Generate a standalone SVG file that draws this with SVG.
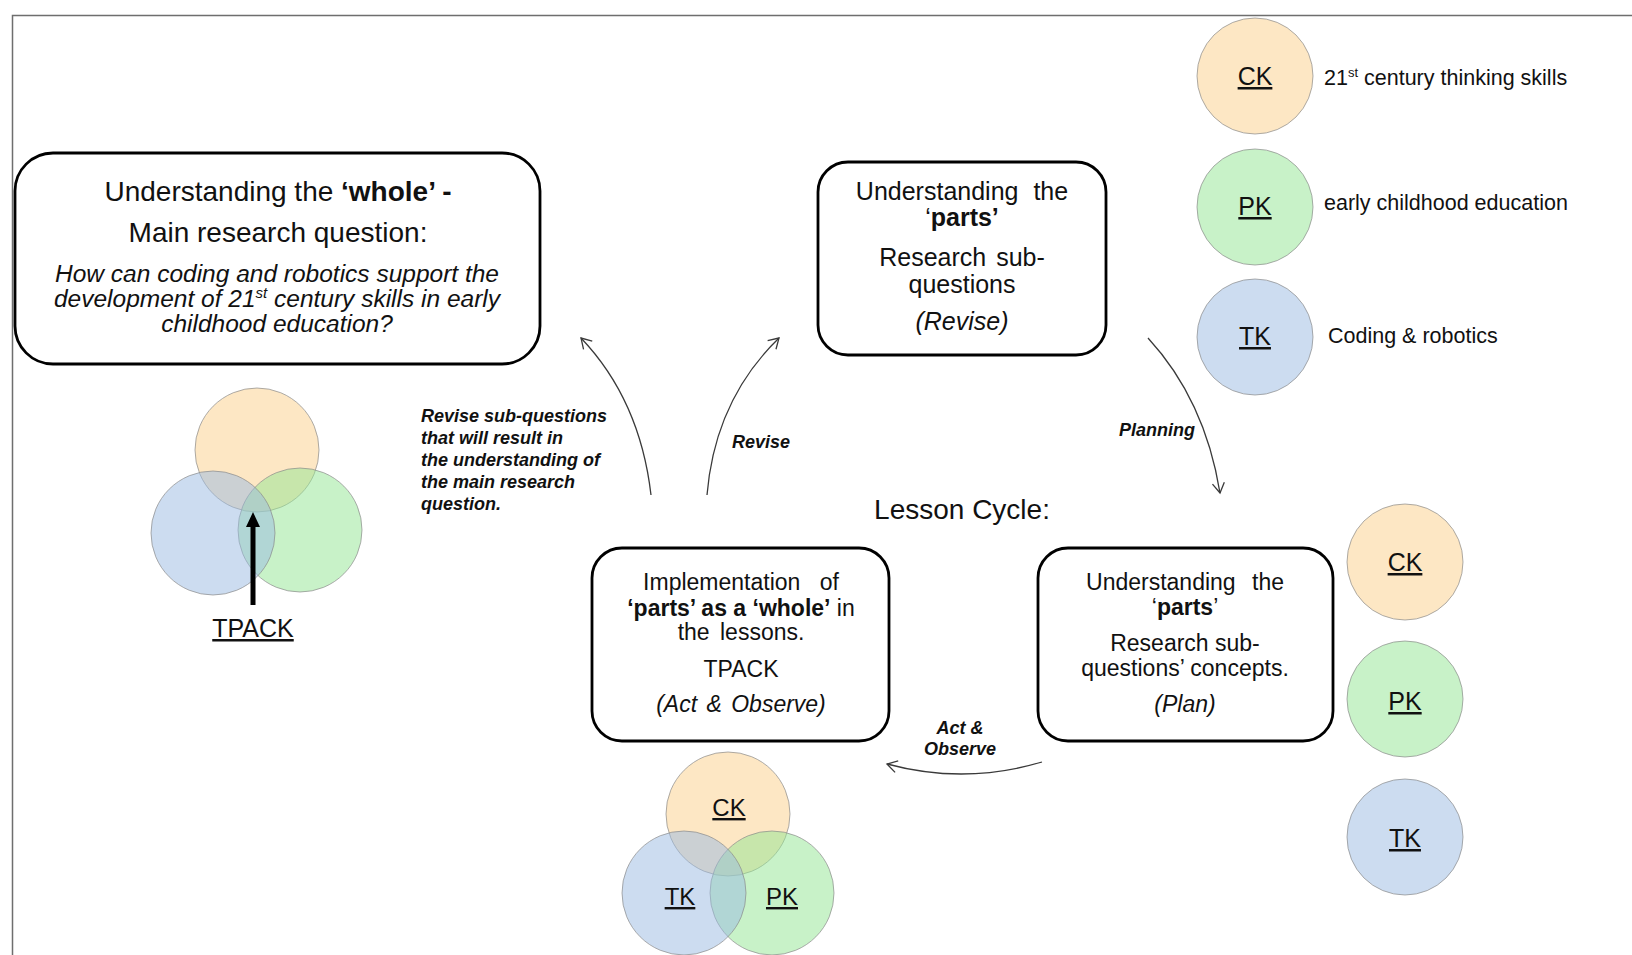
<svg xmlns="http://www.w3.org/2000/svg" width="1632" height="955" viewBox="0 0 1632 955">
  <style>
    text { font-family: "Liberation Sans", Arial, sans-serif; fill: #111; }
    .box { fill: #fff; stroke: #000; stroke-width: 2.8; }
    .frame { stroke: #6e6e6e; stroke-width: 1.5; fill: none; }
    .c { text-anchor: middle; }
    .b { font-weight: bold; }
    .i { font-style: italic; }
    .bi { font-weight: bold; font-style: italic; font-size: 18px; }
    .u { text-decoration: underline; }
    .ck { fill: #fbcf89; fill-opacity: 0.5; stroke: #8a8a8a; stroke-width: 1; stroke-opacity: 0.7; }
    .pk { fill: #91e591; fill-opacity: 0.5; stroke: #8a8a8a; stroke-width: 1; stroke-opacity: 0.7; }
    .tk { fill: #99b9e1; fill-opacity: 0.5; stroke: #8a8a8a; stroke-width: 1; stroke-opacity: 0.7; }
    .conn { fill: none; stroke: #3a3a3a; stroke-width: 1.3; }
  </style>
  <defs>
    <marker id="open" viewBox="-12 -8 14 16" markerWidth="14" markerHeight="16" refX="0" refY="0" orient="auto" markerUnits="userSpaceOnUse">
      <path d="M -10 -6 L 0 0 L -10 6" fill="none" stroke="#3a3a3a" stroke-width="1.3"/>
    </marker>
  </defs>

  <rect width="1632" height="955" fill="#fff"/>
  <!-- page frame (top and left edges) -->
  <path class="frame" d="M 12.5 955 L 12.5 15.5 L 1632 15.5"/>

  <!-- main research question -->
  <g id="whole">
    <rect class="box" x="15" y="153" width="525" height="211" rx="38"/>
    <text class="c" x="278" y="201" font-size="28">Understanding the <tspan class="b">‘whole’ -</tspan></text>
    <text class="c" x="278" y="242" font-size="28">Main research question:</text>
    <text class="c i" x="277" y="282" font-size="24.5">How can coding and robotics support the</text>
    <text class="c i" x="277" y="307" font-size="24.5">development of 21<tspan font-size="15" dy="-9">st</tspan><tspan dy="9"> century skills in early</tspan></text>
    <text class="c i" x="277" y="332" font-size="24.5">childhood education?</text>
  </g>

  <!-- sub-questions (revise) -->
  <g id="parts-revise">
    <rect class="box" x="818" y="162" width="288" height="193" rx="30"/>
    <text class="c" x="962" y="200" font-size="25" word-spacing="8">Understanding the</text>
    <text class="c" x="962" y="226" font-size="25">‘<tspan class="b">parts’</tspan></text>
    <text class="c" x="962" y="266" font-size="25" word-spacing="3">Research sub-</text>
    <text class="c" x="962" y="293" font-size="25">questions</text>
    <text class="c i" x="962" y="330" font-size="25">(Revise)</text>
  </g>

  <!-- legend: knowledge domains -->
  <g id="legend-ck">
    <circle class="ck" cx="1255" cy="76" r="58"/>
    <text class="c u" x="1255" y="85" font-size="25">CK</text>
    <text x="1324" y="85" font-size="21.5">21<tspan font-size="13" dy="-8">st</tspan><tspan dy="8"> century thinking skills</tspan></text>
  </g>
  <g id="legend-pk">
    <circle class="pk" cx="1255" cy="207" r="58"/>
    <text class="c u" x="1255" y="215" font-size="25">PK</text>
    <text x="1324" y="210" font-size="21.5">early childhood education</text>
  </g>
  <g id="legend-tk">
    <circle class="tk" cx="1255" cy="337" r="58"/>
    <text class="c u" x="1255" y="345" font-size="25">TK</text>
    <text x="1328" y="343" font-size="21.5">Coding &amp; robotics</text>
  </g>

  <!-- TPACK venn -->
  <g id="tpack-venn">
    <circle class="ck" cx="257" cy="450" r="62"/>
    <circle class="pk" cx="300" cy="530" r="62"/>
    <circle class="tk" cx="213" cy="533" r="62"/>
    <line x1="253" y1="605" x2="253" y2="524" stroke="#000" stroke-width="5"/>
    <path d="M 253 512 L 260 527 L 246 527 Z" fill="#000"/>
    <text class="c u" x="253" y="637" font-size="25">TPACK</text>
  </g>

  <!-- lesson cycle title -->
  <g id="lesson-cycle">
    <text class="c" x="962" y="519" font-size="28">Lesson Cycle:</text>
  </g>

  <!-- implementation (act & observe) -->
  <g id="implementation">
    <rect class="box" x="592" y="548" width="297" height="193" rx="30"/>
    <text class="c" x="741" y="590" font-size="23" word-spacing="13">Implementation of</text>
    <text class="c" x="741" y="616" font-size="23"><tspan class="b">‘parts’ as a ‘whole’</tspan> in</text>
    <text class="c" x="741" y="640" font-size="23" word-spacing="4">the lessons.</text>
    <text class="c" x="741" y="677" font-size="23">TPACK</text>
    <text class="c i" x="741" y="712" font-size="23" word-spacing="3">(Act &amp; Observe)</text>
  </g>

  <!-- sub-question concepts (plan) -->
  <g id="parts-plan">
    <rect class="box" x="1038" y="548" width="295" height="193" rx="30"/>
    <text class="c" x="1185" y="590" font-size="23" word-spacing="10">Understanding the</text>
    <text class="c" x="1185" y="615" font-size="23">‘<tspan class="b">parts</tspan>’</text>
    <text class="c" x="1185" y="651" font-size="23">Research sub-</text>
    <text class="c" x="1185" y="676" font-size="23">questions’ concepts.</text>
    <text class="c i" x="1185" y="712" font-size="23">(Plan)</text>
  </g>

  <!-- legend beside plan box -->
  <g id="plan-ck">
    <circle class="ck" cx="1405" cy="562" r="58"/>
    <text class="c u" x="1405" y="571" font-size="25">CK</text>
  </g>
  <g id="plan-pk">
    <circle class="pk" cx="1405" cy="699" r="58"/>
    <text class="c u" x="1405" y="710" font-size="25">PK</text>
  </g>
  <g id="plan-tk">
    <circle class="tk" cx="1405" cy="837" r="58"/>
    <text class="c u" x="1405" y="847" font-size="25">TK</text>
  </g>

  <!-- venn below implementation -->
  <g id="lesson-venn">
    <circle class="ck" cx="728" cy="814" r="62"/>
    <circle class="pk" cx="772" cy="893" r="62"/>
    <circle class="tk" cx="684" cy="893" r="62"/>
    <text class="c u" x="729" y="816" font-size="24">CK</text>
    <text class="c u" x="680" y="905" font-size="24">TK</text>
    <text class="c u" x="782" y="905" font-size="24">PK</text>
  </g>

  <!-- cycle connectors -->
  <g id="connectors">
    <path class="conn" d="M 651 495 Q 640 400 581 338" marker-end="url(#open)"/>
    <path class="conn" d="M 707 495 Q 715 400 779 338" marker-end="url(#open)"/>
    <path class="conn" d="M 1148 338 Q 1205 400 1220 493" marker-end="url(#open)"/>
    <path class="conn" d="M 1042 762 Q 965 785 887 764" marker-end="url(#open)"/>
    <text class="bi" x="421" y="422">Revise sub-questions</text>
    <text class="bi" x="421" y="444">that will result in</text>
    <text class="bi" x="421" y="466">the understanding of</text>
    <text class="bi" x="421" y="488">the main research</text>
    <text class="bi" x="421" y="510">question.</text>
    <text class="bi" x="732" y="448">Revise</text>
    <text class="bi" x="1119" y="436">Planning</text>
    <text class="bi c" x="960" y="734">Act &amp;</text>
    <text class="bi c" x="960" y="755">Observe</text>
  </g>
</svg>
